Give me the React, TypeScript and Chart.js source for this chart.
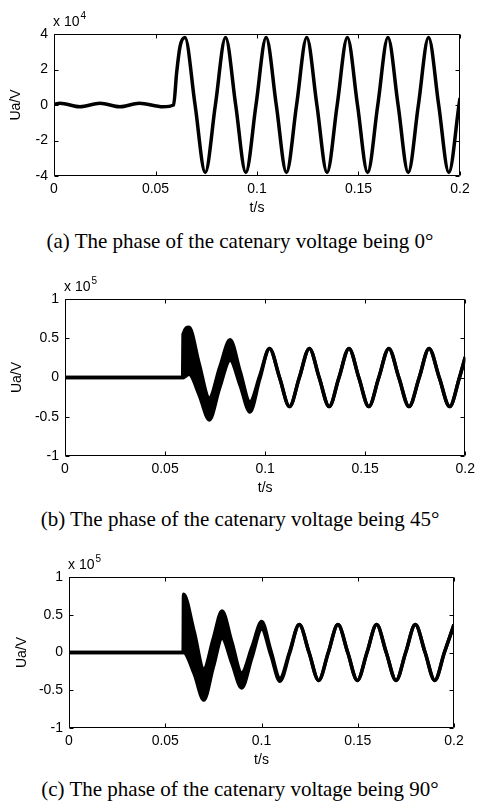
import React, { useEffect, useRef } from "react";
import { Chart, registerables } from "chart.js";
Chart.register(...registerables);

// ---------- shared axis ticks ----------
const xTicks = [0, 0.05, 0.1, 0.15, 0.2];
const yTicksA = [-4, -2, 0, 2, 4];
const yTicksBC = [-1, -0.5, 0, 0.5, 1];

// ---------- (a) phase 0°, values in 1e4 V ----------
const tA = [0, 0.003, 0.0128, 0.0227, 0.0325, 0.042, 0.0537, 0.0589, 0.0604, 0.0621, 0.0645,
  0.0695, 0.0745, 0.0795, 0.0845, 0.0895, 0.0945, 0.0995, 0.1045, 0.1095, 0.1145, 0.1195,
  0.1245, 0.1295, 0.1345, 0.1395, 0.1445, 0.1495, 0.1545, 0.1595, 0.1645, 0.1695, 0.1745,
  0.1795, 0.1845, 0.1895, 0.1945, 0.1995, 0.2];
const uA = [0.03, 0.1, -0.1, 0.1, -0.1, 0.1, -0.1, 0, 1.8, 3.3, 3.8,
  0, -3.8, 0, 3.8, 0, -3.8, 0, 3.8, 0, -3.8, 0,
  3.8, 0, -3.8, 0, 3.8, 0, -3.8, 0, 3.8, 0, -3.8,
  0, 3.8, 0, -3.8, 0, 0.4];

// ---------- (b) phase 45°, values in 1e5 V (upper / lower edge of the trace) ----------
const tB = [0, 0.0588, 0.059, 0.062, 0.067, 0.0721, 0.0773, 0.0825, 0.0875, 0.0924, 0.0973,
  0.1022, 0.1072, 0.1122, 0.1171, 0.1221, 0.127, 0.132, 0.1369, 0.1419, 0.1468, 0.1518,
  0.1568, 0.1618, 0.1668, 0.1719, 0.177, 0.1819, 0.187, 0.1922, 0.1971, 0.2];
const upB = [0, 0, 0.55, 0.64, 0.18, -0.26, 0.13, 0.48, 0.08, -0.31, 0.02,
  0.37, 0, -0.37, 0, 0.37, 0, -0.37, 0, 0.37, 0, -0.37,
  0, 0.37, 0, -0.37, 0, 0.37, 0, -0.37, 0, 0.26];
const loB = [0, 0, 0, 0.04, -0.22, -0.54, -0.13, 0.22, -0.1, -0.44, -0.02,
  0.37, 0, -0.37, 0, 0.37, 0, -0.37, 0, 0.37, 0, -0.37,
  0, 0.37, 0, -0.37, 0, 0.37, 0, -0.37, 0, 0.26];

// ---------- (c) phase 90°, values in 1e5 V (upper / lower edge of the trace) ----------
const tC = [0, 0.0593, 0.0595, 0.065, 0.07, 0.075, 0.0795, 0.0846, 0.0897, 0.095, 0.1001,
  0.1048, 0.1096, 0.1146, 0.1196, 0.1247, 0.1297, 0.1347, 0.1397, 0.1448, 0.1498, 0.1548,
  0.1598, 0.1648, 0.1699, 0.1749, 0.1799, 0.185, 0.19, 0.195, 0.2];
const upC = [0, 0, 0.77, 0.28, -0.22, 0.19, 0.55, 0.14, -0.27, 0.07, 0.41,
  0.03, -0.34, 0.01, 0.37, 0, -0.37, 0, 0.37, 0, -0.37, 0,
  0.37, 0, -0.37, 0, 0.37, 0, -0.37, 0, 0.37];
const loC = [0, 0, 0, -0.28, -0.63, -0.19, 0.19, -0.14, -0.47, -0.07, 0.31,
  -0.03, -0.38, -0.01, 0.37, 0, -0.37, 0, 0.37, 0, -0.37, 0,
  0.37, 0, -0.37, 0, 0.37, 0, -0.37, 0, 0.37];

const captions = [
  "(a) The phase of the catenary voltage being 0°",
  "(b) The phase of the catenary voltage being 45°",
  "(c) The phase of the catenary voltage being 90°",
];
const exponents = ["4", "5", "5"];
const xTitle = "t/s";
const yTitle = "Ua/V";

const SANS = "'Liberation Sans', Arial, Helvetica, sans-serif";
const SERIF = "'Liberation Serif', 'Times New Roman', serif";
const FS = 14;

type Panel = {
  top: number; height: number; plotTop: number; plotLeft: number; plotRight: number;
  yMin: number; yMax: number; yTicks: number[]; exp: string; titleX: number;
  t: number[]; up: number[]; lo?: number[];
};

const panels: Panel[] = [
  { top: 0, height: 218, plotTop: 34, plotLeft: 54, plotRight: 460, yMin: -4, yMax: 4,
    yTicks: yTicksA, exp: exponents[0], titleX: 16.5, t: tA, up: uA },
  { top: 262, height: 236, plotTop: 299, plotLeft: 65, plotRight: 469, yMin: -1, yMax: 1,
    yTicks: yTicksBC, exp: exponents[1], titleX: 16.7, t: tB, up: upB, lo: loB },
  { top: 540, height: 230, plotTop: 577, plotLeft: 69, plotRight: 454, yMin: -1, yMax: 1,
    yTicks: yTicksBC, exp: exponents[2], titleX: 22.3, t: tC, up: upC, lo: loC },
];
const captionBaselines = [249, 526.7, 796.7];

const framePlugin = {
  id: "matlabFrame",
  afterDraw(chart: any) {
    const { ctx, chartArea: a, scales } = chart;
    const o = chart.options.plugins.matlabFrame;
    const L = Math.round(a.left) + 0.5, R = Math.round(a.right) - 0.5;
    const T = Math.round(a.top) + 0.5, B = Math.round(a.bottom) - 0.5;
    ctx.save();
    ctx.strokeStyle = "#000";
    ctx.lineWidth = 1;
    ctx.beginPath();
    ctx.rect(L, T, R - L, B - T);
    const tl = 4;
    for (const v of o.xTicks) {
      const px = Math.round(scales.x.getPixelForValue(v)) + 0.5;
      ctx.moveTo(px, B); ctx.lineTo(px, B - tl);
      ctx.moveTo(px, T); ctx.lineTo(px, T + tl);
    }
    for (const v of o.yTicks) {
      const py = Math.round(scales.y.getPixelForValue(v)) + 0.5;
      ctx.moveTo(L, py); ctx.lineTo(L + tl, py);
      ctx.moveTo(R, py); ctx.lineTo(R - tl, py);
    }
    ctx.stroke();
    // axis multiplier "x 10^n"
    ctx.fillStyle = "#000";
    ctx.textBaseline = "alphabetic";
    ctx.textAlign = "left";
    ctx.font = `${FS}px ${SANS}`;
    const base = "x 10";
    ctx.fillText(base, a.left - 1, a.top - 8);
    const w = ctx.measureText(base).width;
    ctx.font = `10px ${SANS}`;
    ctx.fillText(o.exp, a.left - 1 + w + 1, a.top - 15);
    ctx.restore();
  },
};

function PanelChart({ p }: { p: Panel }) {
  const ref = useRef<HTMLCanvasElement | null>(null);
  useEffect(() => {
    if (!ref.current) return;
    const lineOpts = {
      borderColor: "#000", borderWidth: 3.5, pointRadius: 0,
      cubicInterpolationMode: "monotone" as const,
    };
    const datasets: any[] = [
      { ...lineOpts, data: p.t.map((t, i) => ({ x: t, y: p.up[i] })), fill: false },
    ];
    if (p.lo) {
      datasets.push({
        ...lineOpts, data: p.t.map((t, i) => ({ x: t, y: (p.lo as number[])[i] })),
        fill: "-1", backgroundColor: "#000",
      });
    }
    const font = { family: SANS, size: FS };
    const chart = new Chart(ref.current, {
      type: "line",
      data: { datasets },
      options: {
        animation: false, responsive: false, events: [],
        layout: { padding: { left: 0, top: p.plotTop - p.top, right: 480 - p.plotRight, bottom: 0 } },
        plugins: {
          legend: { display: false }, tooltip: { enabled: false },
          matlabFrame: { exp: p.exp, xTicks, yTicks: p.yTicks },
        } as any,
        scales: {
          x: {
            type: "linear", min: 0, max: 0.2,
            grid: { display: false, drawTicks: false }, border: { display: false },
            afterBuildTicks: (s: any) => { s.ticks = xTicks.map((v) => ({ value: v })); },
            afterFit: (s: any) => { s.height = 42; },
            ticks: { autoSkip: false, maxRotation: 0, padding: 5, color: "#000", font,
              callback: (v: any) => String(v) },
            title: { display: true, text: xTitle, color: "#000", font, padding: { top: 0, bottom: 1.6 } },
          },
          y: {
            type: "linear", min: p.yMin, max: p.yMax,
            grid: { display: false, drawTicks: false }, border: { display: false },
            afterBuildTicks: (s: any) => { s.ticks = p.yTicks.map((v) => ({ value: v })); },
            afterFit: (s: any) => { s.width = p.plotLeft; },
            ticks: { autoSkip: false, padding: 6, color: "#000", font,
              callback: (v: any) => String(v) },
            title: { display: true, text: yTitle, color: "#000", font,
              padding: { top: p.titleX - FS * 0.6, bottom: 0 } },
          },
        },
      },
      plugins: [framePlugin],
    });
    return () => chart.destroy();
  }, [p]);
  return (
    <canvas ref={ref} width={480} height={p.height}
      style={{ position: "absolute", left: 0, top: p.top, width: 480, height: p.height }} />
  );
}

export default function App() {
  const capSize = 21;
  return (
    <div style={{ position: "absolute", left: 0, top: 0, width: 480, height: 809, background: "#fff", overflow: "hidden" }}>
      {panels.map((p, i) => <PanelChart key={i} p={p} />)}
      {captions.map((c, i) => (
        <div key={"c" + i} style={{
          position: "absolute", left: 0, width: 480, textAlign: "center",
          top: captionBaselines[i] - 17.6, fontFamily: SERIF, fontSize: capSize, lineHeight: "21px",
          color: "#000", whiteSpace: "nowrap",
        }}>{c}</div>
      ))}
    </div>
  );
}
